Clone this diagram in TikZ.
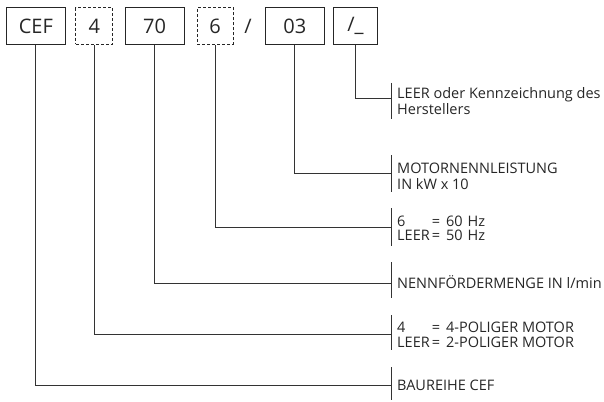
\documentclass[tikz,border=0pt]{standalone}
\usepackage{fontspec}
\setmainfont{Open Sans}
\begin{document}
\begin{tikzpicture}[x=1pt,y=-1pt,
  box/.style={draw=black!85, line width=1pt, minimum height=36.6pt, inner sep=0pt,
              font=\fontsize{20}{22}\selectfont, text=black!85},
  dbox/.style={box, dash pattern=on 3pt off 2pt},
  conn/.style={draw=black!80, line width=0.9pt},
  lbl/.style={anchor=base west, inner sep=0pt, font=\fontsize{14.5}{15}\selectfont, text=black!85}]
\useasboundingbox (0,0) rectangle (604,401);
% code boxes
\node[box,  minimum width=59.3pt] (cef)  at (35.8,26) {CEF};
\node[dbox, minimum width=36.7pt] (four) at (94.3,26) {4};
\node[box,  minimum width=59pt]   (sev)  at (154.5,26) {70};
\node[dbox, minimum width=36pt]   (six)  at (215,26) {6};
\node[inner sep=0pt, font=\fontsize{20}{22}\selectfont, text=black!85] (slash) at (248,26) {/};
\node[box,  minimum width=59.5pt] (oth)  at (294.8,26) {03};
\node[box,  minimum width=44pt]   (man)  at (355.5,26) {/\_};
% junctions on the brackets
\coordinate (jman) at (391,98);
\coordinate (joth) at (391,173);
\coordinate (jsix) at (391,227);
\coordinate (jsev) at (391,283);
\coordinate (jfour) at (391,334);
\coordinate (jcef) at (391,385);
% bracket ends
\coordinate (bmanT) at (391,83);   \coordinate (bmanB) at (391,119);
\coordinate (bothT) at (391,155);  \coordinate (bothB) at (391,192);
\coordinate (bsixT) at (391,208);  \coordinate (bsixB) at (391,246);
\coordinate (bsevT) at (391,262);  \coordinate (bsevB) at (391,298);
\coordinate (bfourT) at (391,315); \coordinate (bfourB) at (391,350);
\coordinate (bcefT) at (391,367);  \coordinate (bcefB) at (391,400);
% connectors
\draw[conn] (man.south) |- (jman);
\draw[conn] (oth.south) |- (joth);
\draw[conn] (six.south) |- (jsix);
\draw[conn] (sev.south) |- (jsev);
\draw[conn] (four.south) |- (jfour);
\draw[conn] (cef.south) |- (jcef);
\draw[conn] (bmanT) -- (bmanB);
\draw[conn] (bothT) -- (bothB);
\draw[conn] (bsixT) -- (bsixB);
\draw[conn] (bsevT) -- (bsevB);
\draw[conn] (bfourT) -- (bfourB);
\draw[conn] (bcefT) -- (bcefB);
% labels
\node[lbl] (tman1) at (397,98.3) {LEER oder Kennzeichnung des};
\node[lbl] (tman2) at (397,114) {Herstellers};
\node[lbl] (toth1) at (397,173) {MOTORNENNLEISTUNG};
\node[lbl] (toth2) at (397,189) {IN kW x 10};
\node[lbl] (tsix1) at (397,226) {\rlap{6}\phantom{LEER}\kern2pt=\kern6pt60\kern5pt Hz};
\node[lbl] (tsix2) at (397,240) {LEER\kern2pt=\kern6pt50\kern5pt Hz};
\node[lbl] (tsev)  at (397,288) {NENNFÖRDERMENGE IN l/min};
\node[lbl] (tfour1) at (397,332) {\rlap{4}\phantom{LEER}\kern2pt=\kern6pt4-POLIGER MOTOR};
\node[lbl] (tfour2) at (397,347) {LEER\kern2pt=\kern6pt2-POLIGER MOTOR};
\node[lbl] (tcef)  at (397,390) {BAUREIHE CEF};
\end{tikzpicture}
\end{document}
